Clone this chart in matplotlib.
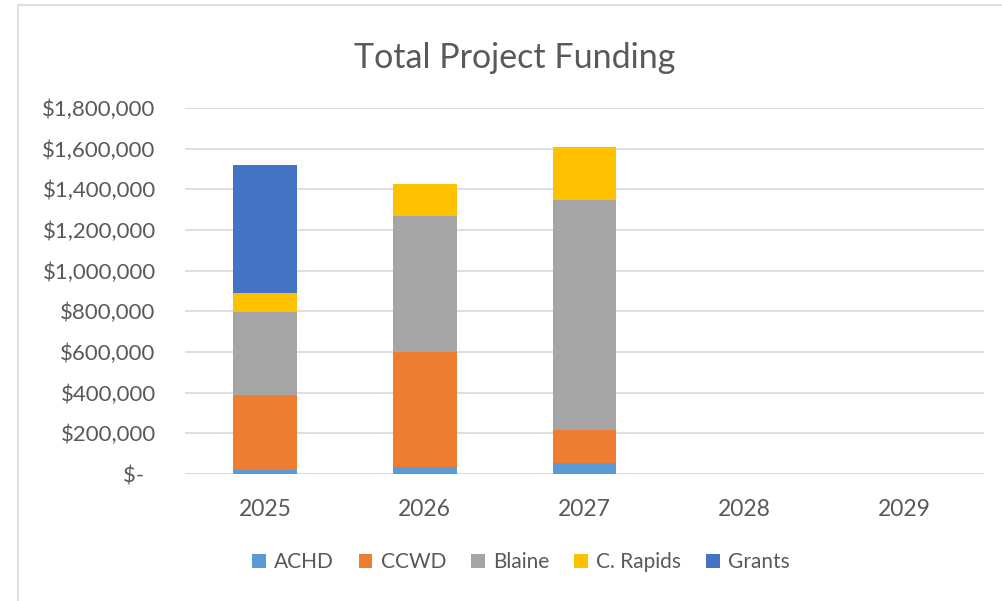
import matplotlib.pyplot as plt
import matplotlib.patches as patches
from matplotlib.ticker import FuncFormatter
import numpy as np

plt.rcParams['font.family'] = ['Lato', 'DejaVu Sans']

years = ["2025", "2026", "2027", "2028", "2029"]
achd = [20000, 33000, 53000, 0, 0]
ccwd = [371000, 569000, 163000, 0, 0]
blaine = [407000, 666000, 1132000, 0, 0]
c_rapids = [90000, 158000, 259000, 0, 0]
grants = [630000, 0, 0, 0, 0]

series = [("ACHD", achd, "#5B9BD5"),
          ("CCWD", ccwd, "#ED7D31"),
          ("Blaine", blaine, "#A5A5A5"),
          ("C. Rapids", c_rapids, "#FFC000"),
          ("Grants", grants, "#4472C4")]

txt = "#595959"
grid = "#D9D9D9"

fig = plt.figure(figsize=(10.02, 6.01), dpi=100)
ax = fig.add_axes([0.1846, 0.2113, 0.7974, 0.609])

x = np.arange(len(years))
bottom = np.zeros(len(years))
for name, vals, col in series:
    ax.bar(x, vals, width=0.4, bottom=bottom, color=col, label=name, zorder=3)
    bottom += np.array(vals)

ax.set_xlim(-0.5, len(years) - 0.5)
ax.set_ylim(0, 1800000)
ax.set_yticks(np.arange(0, 1800001, 200000))
# accounting style: zero shows as "$-" with some right padding
ax.yaxis.set_major_formatter(FuncFormatter(lambda v, p: "$-  " if v == 0 else f"${v:,.0f}"))
ax.set_xticks(x)
ax.set_xticklabels(years)
ax.grid(axis="y", color=grid, linewidth=1.2, zorder=0)
for s in ax.spines.values():
    s.set_visible(False)
ax.axhline(0, color=grid, linewidth=1.2, zorder=1)
ax.tick_params(axis="both", length=0, colors=txt)
ax.tick_params(axis="y", pad=21, labelsize=16)
ax.tick_params(axis="x", pad=18, labelsize=16.5)

fig.text(0.514, 1 - 68 / 601, "Total Project Funding", ha="center", va="baseline",
         fontsize=24.5, color=txt)

fig.legend(loc="center", bbox_to_anchor=(0.52, 1 - 562 / 601), ncol=5, frameon=False,
           fontsize=15, labelcolor=txt, handlelength=0.65, handleheight=0.65,
           handletextpad=0.4, columnspacing=1.2)

# chart frame
fig.patches.append(patches.Rectangle((18 / 1002, -0.05), 1.1, 1 - 5 / 601 + 0.05,
                                     transform=fig.transFigure, fill=False,
                                     edgecolor="#D9D9D9", linewidth=1.2))

fig.savefig("out.png", dpi=100)
